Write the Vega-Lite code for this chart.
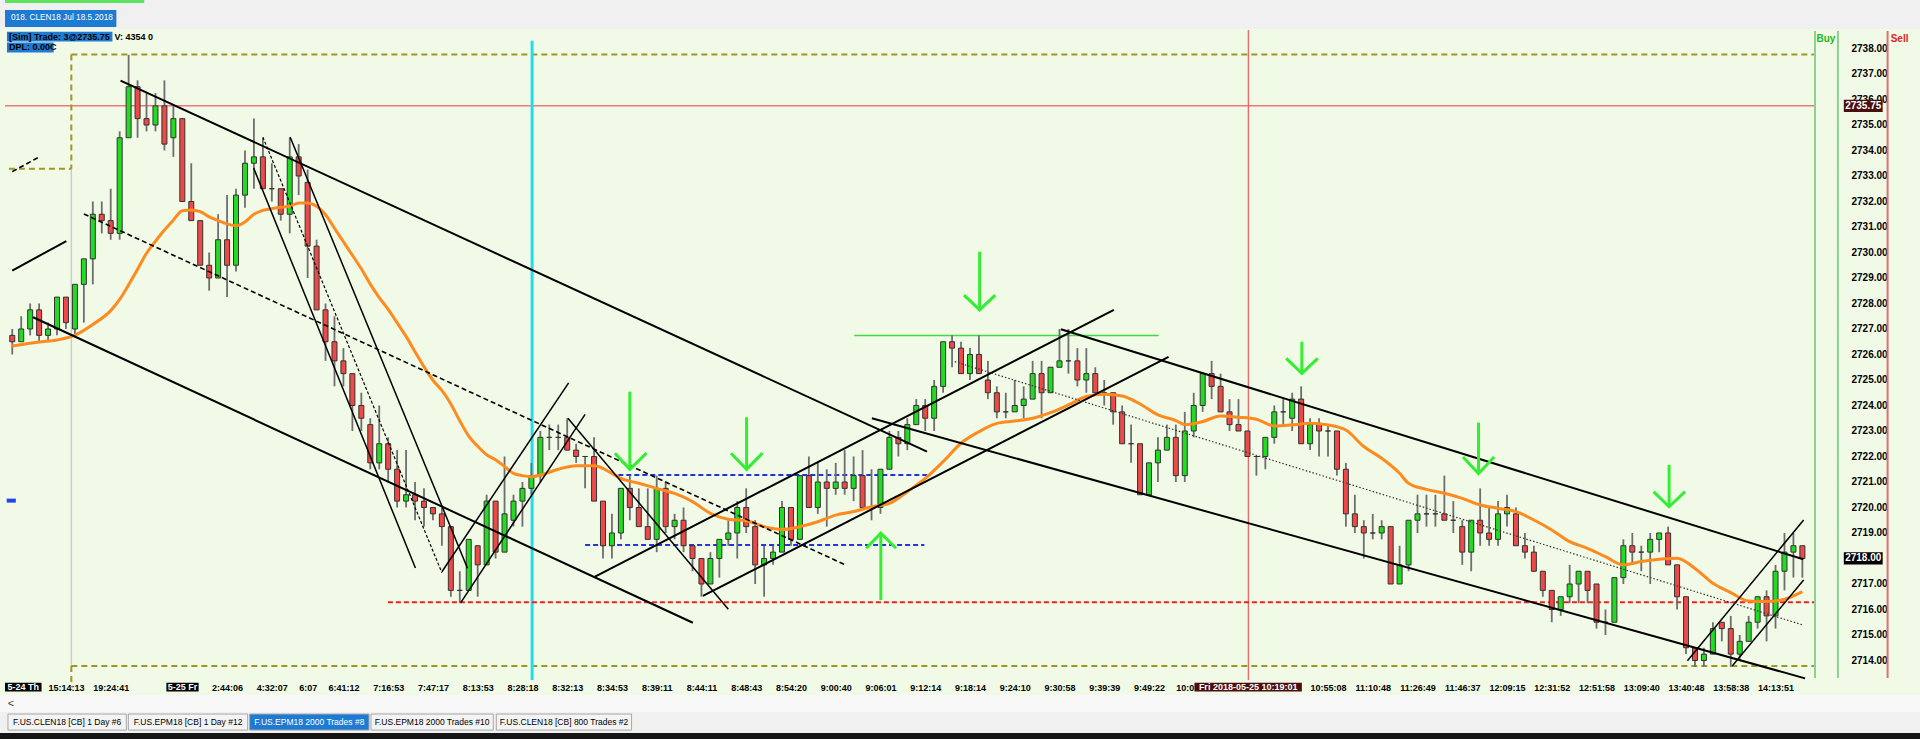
{
"$schema":"https://vega.github.io/schema/vega-lite/v6.json",
"width":1820,"height":650,"autosize":{"type":"none"},
"padding":{"left":0,"top":30,"right":100,"bottom":59},
"background":"#F0FAE6",
"config":{"view":{"stroke":null}},
"datasets":{
"candles":[
{"i":1,"o":2726.75,"h":2727.0,"l":2726.0,"c":2726.5},{"i":2,"o":2726.5,"h":2727.5,"l":2726.5,"c":2727.0},{"i":3,"o":2727.0,"h":2728.0,"l":2726.75,"c":2727.75},{"i":4,"o":2727.75,"h":2728.0,"l":2726.5,"c":2726.75},{"i":5,"o":2726.75,"h":2727.25,"l":2726.5,"c":2727.0},{"i":6,"o":2727.0,"h":2728.25,"l":2726.75,"c":2728.25},{"i":7,"o":2728.25,"h":2728.25,"l":2727.0,"c":2727.25},{"i":8,"o":2727.0,"h":2728.75,"l":2726.75,"c":2728.75},{"i":9,"o":2728.75,"h":2729.75,"l":2727.25,"c":2729.75},{"i":10,"o":2729.75,"h":2732.0,"l":2728.75,"c":2731.5},
{"i":11,"o":2731.5,"h":2732.0,"l":2730.75,"c":2731.25},{"i":12,"o":2731.25,"h":2732.5,"l":2730.5,"c":2730.75},{"i":13,"o":2730.75,"h":2734.75,"l":2730.5,"c":2734.5},{"i":14,"o":2734.5,"h":2737.75,"l":2734.5,"c":2736.5},{"i":15,"o":2736.5,"h":2736.75,"l":2734.5,"c":2735.25},{"i":16,"o":2735.25,"h":2736.25,"l":2734.75,"c":2735.0},{"i":17,"o":2735.0,"h":2736.25,"l":2734.75,"c":2735.75},{"i":18,"o":2735.75,"h":2736.75,"l":2734.0,"c":2734.25},{"i":19,"o":2734.5,"h":2735.75,"l":2733.75,"c":2735.25},{"i":20,"o":2735.25,"h":2735.25,"l":2732.0,"c":2732.0},
{"i":21,"o":2732.0,"h":2733.5,"l":2731.25,"c":2731.25},{"i":22,"o":2731.25,"h":2731.25,"l":2729.5,"c":2729.5},{"i":23,"o":2729.5,"h":2730.0,"l":2728.5,"c":2729.0},{"i":24,"o":2729.0,"h":2731.5,"l":2729.0,"c":2730.5},{"i":25,"o":2730.5,"h":2732.25,"l":2728.25,"c":2729.5},{"i":26,"o":2729.5,"h":2732.5,"l":2729.25,"c":2732.25},{"i":27,"o":2732.25,"h":2734.0,"l":2731.75,"c":2733.5},{"i":28,"o":2733.5,"h":2735.25,"l":2732.5,"c":2733.75},{"i":29,"o":2733.75,"h":2734.5,"l":2732.5,"c":2732.5},{"i":30,"o":2732.5,"h":2733.5,"l":2732.0,"c":2732.5},
{"i":31,"o":2732.5,"h":2732.5,"l":2731.25,"c":2731.5},{"i":32,"o":2731.5,"h":2734.5,"l":2730.75,"c":2733.75},{"i":33,"o":2733.75,"h":2734.25,"l":2732.25,"c":2733.0},{"i":34,"o":2732.75,"h":2733.25,"l":2729.0,"c":2730.25},{"i":35,"o":2730.25,"h":2730.5,"l":2727.75,"c":2727.75},{"i":36,"o":2727.75,"h":2728.0,"l":2725.75,"c":2726.5},{"i":37,"o":2726.5,"h":2727.5,"l":2724.75,"c":2725.75},{"i":38,"o":2725.75,"h":2726.25,"l":2724.75,"c":2725.25},{"i":39,"o":2725.25,"h":2725.25,"l":2723.0,"c":2724.0},{"i":40,"o":2724.0,"h":2724.5,"l":2723.0,"c":2723.5},
{"i":41,"o":2723.25,"h":2723.5,"l":2721.5,"c":2721.75},{"i":42,"o":2721.75,"h":2724.0,"l":2721.5,"c":2722.5},{"i":43,"o":2722.5,"h":2722.75,"l":2721.0,"c":2721.5},{"i":44,"o":2721.5,"h":2722.25,"l":2720.0,"c":2720.25},{"i":45,"o":2720.25,"h":2722.25,"l":2720.0,"c":2720.5},{"i":46,"o":2720.5,"h":2721.0,"l":2719.5,"c":2720.25},{"i":47,"o":2720.25,"h":2720.75,"l":2719.25,"c":2720.0},{"i":48,"o":2720.0,"h":2720.0,"l":2719.5,"c":2719.75},{"i":49,"o":2719.75,"h":2720.0,"l":2718.5,"c":2719.25},{"i":50,"o":2719.25,"h":2719.25,"l":2716.5,"c":2716.75},
{"i":51,"o":2716.75,"h":2717.5,"l":2716.25,"c":2716.75},{"i":52,"o":2716.75,"h":2718.75,"l":2716.75,"c":2718.75},{"i":53,"o":2718.5,"h":2718.5,"l":2716.5,"c":2717.75},{"i":54,"o":2717.75,"h":2720.5,"l":2717.75,"c":2720.25},{"i":55,"o":2720.25,"h":2720.25,"l":2718.0,"c":2718.25},{"i":56,"o":2718.25,"h":2722.0,"l":2718.25,"c":2719.75},{"i":57,"o":2719.5,"h":2720.5,"l":2719.25,"c":2720.25},{"i":58,"o":2720.25,"h":2721.0,"l":2719.25,"c":2720.75},{"i":59,"o":2720.75,"h":2721.75,"l":2720.5,"c":2721.25},{"i":60,"o":2721.25,"h":2723.0,"l":2721.0,"c":2722.75},
{"i":61,"o":2722.75,"h":2723.25,"l":2722.25,"c":2722.75},{"i":62,"o":2722.75,"h":2723.25,"l":2722.25,"c":2722.75},{"i":63,"o":2722.75,"h":2723.5,"l":2722.25,"c":2722.25},{"i":64,"o":2722.25,"h":2722.5,"l":2721.75,"c":2722.0},{"i":65,"o":2722.0,"h":2722.0,"l":2720.75,"c":2722.0},{"i":66,"o":2722.0,"h":2722.75,"l":2720.25,"c":2720.25},{"i":67,"o":2720.25,"h":2720.25,"l":2718.0,"c":2718.5},{"i":68,"o":2718.5,"h":2719.75,"l":2718.0,"c":2719.0},{"i":69,"o":2719.0,"h":2720.75,"l":2718.75,"c":2720.75},{"i":70,"o":2720.75,"h":2721.25,"l":2719.5,"c":2720.0},
{"i":71,"o":2720.0,"h":2720.75,"l":2719.25,"c":2719.25},{"i":72,"o":2719.25,"h":2720.75,"l":2718.75,"c":2718.75},{"i":73,"o":2718.75,"h":2721.25,"l":2718.25,"c":2720.75},{"i":74,"o":2720.75,"h":2721.0,"l":2719.0,"c":2719.25},{"i":75,"o":2719.25,"h":2719.75,"l":2718.75,"c":2719.5},{"i":76,"o":2719.5,"h":2720.0,"l":2718.25,"c":2718.5},{"i":77,"o":2718.5,"h":2718.5,"l":2717.5,"c":2718.0},{"i":78,"o":2718.0,"h":2718.0,"l":2716.5,"c":2717.0},{"i":79,"o":2717.0,"h":2718.25,"l":2717.0,"c":2718.0},{"i":80,"o":2718.0,"h":2718.75,"l":2717.25,"c":2718.75},
{"i":81,"o":2718.75,"h":2719.5,"l":2718.5,"c":2719.0},{"i":82,"o":2719.0,"h":2720.25,"l":2718.0,"c":2720.0},{"i":83,"o":2720.0,"h":2720.75,"l":2719.0,"c":2719.25},{"i":84,"o":2719.25,"h":2719.5,"l":2717.0,"c":2717.75},{"i":85,"o":2717.75,"h":2718.5,"l":2716.5,"c":2718.0},{"i":86,"o":2718.0,"h":2718.5,"l":2717.75,"c":2718.25},{"i":87,"o":2718.25,"h":2720.25,"l":2718.25,"c":2720.0},{"i":88,"o":2720.0,"h":2720.0,"l":2718.5,"c":2718.75},{"i":89,"o":2718.75,"h":2721.25,"l":2718.75,"c":2721.25},{"i":90,"o":2721.25,"h":2722.0,"l":2720.0,"c":2720.0},
{"i":91,"o":2720.0,"h":2721.75,"l":2719.75,"c":2721.0},{"i":92,"o":2721.0,"h":2721.5,"l":2719.25,"c":2720.75},{"i":93,"o":2720.75,"h":2721.75,"l":2720.5,"c":2721.0},{"i":94,"o":2721.0,"h":2722.25,"l":2720.5,"c":2720.75},{"i":95,"o":2720.75,"h":2722.0,"l":2720.25,"c":2721.25},{"i":96,"o":2721.25,"h":2722.25,"l":2720.0,"c":2720.0},{"i":97,"o":2720.0,"h":2721.5,"l":2719.5,"c":2720.0},{"i":98,"o":2720.0,"h":2721.5,"l":2719.75,"c":2721.5},{"i":99,"o":2721.5,"h":2723.0,"l":2721.5,"c":2722.75},{"i":100,"o":2722.75,"h":2723.0,"l":2722.0,"c":2722.5},
{"i":101,"o":2722.5,"h":2723.5,"l":2722.25,"c":2723.25},{"i":102,"o":2723.25,"h":2724.25,"l":2723.25,"c":2724.0},{"i":103,"o":2724.0,"h":2724.25,"l":2723.0,"c":2723.5},{"i":104,"o":2723.5,"h":2725.0,"l":2723.0,"c":2724.75},{"i":105,"o":2724.75,"h":2726.5,"l":2724.5,"c":2726.5},{"i":106,"o":2726.5,"h":2726.75,"l":2725.5,"c":2726.25},{"i":107,"o":2726.25,"h":2726.5,"l":2725.25,"c":2725.25},{"i":108,"o":2725.25,"h":2726.25,"l":2725.0,"c":2726.0},{"i":109,"o":2726.0,"h":2726.75,"l":2725.25,"c":2725.25},{"i":110,"o":2725.0,"h":2725.75,"l":2724.25,"c":2724.5},
{"i":111,"o":2724.5,"h":2724.75,"l":2723.5,"c":2723.75},{"i":112,"o":2723.75,"h":2724.5,"l":2723.5,"c":2723.75},{"i":113,"o":2723.75,"h":2725.0,"l":2723.75,"c":2724.0},{"i":114,"o":2724.0,"h":2724.75,"l":2723.5,"c":2724.25},{"i":115,"o":2724.25,"h":2725.75,"l":2724.25,"c":2725.25},{"i":116,"o":2725.25,"h":2725.75,"l":2723.5,"c":2724.5},{"i":117,"o":2724.5,"h":2725.5,"l":2724.5,"c":2725.5},{"i":118,"o":2725.5,"h":2727.0,"l":2725.5,"c":2725.75},{"i":119,"o":2725.75,"h":2727.0,"l":2725.25,"c":2725.75},{"i":120,"o":2725.75,"h":2726.25,"l":2724.75,"c":2725.0},
{"i":121,"o":2725.0,"h":2726.25,"l":2724.5,"c":2725.25},{"i":122,"o":2725.25,"h":2725.5,"l":2724.5,"c":2724.5},{"i":123,"o":2724.5,"h":2725.0,"l":2724.0,"c":2724.5},{"i":124,"o":2724.5,"h":2724.5,"l":2723.25,"c":2723.75},{"i":125,"o":2723.75,"h":2724.0,"l":2722.5,"c":2722.5},{"i":126,"o":2722.5,"h":2723.25,"l":2721.75,"c":2722.5},{"i":127,"o":2722.5,"h":2722.5,"l":2720.5,"c":2720.5},{"i":128,"o":2720.5,"h":2721.75,"l":2720.5,"c":2721.75},{"i":129,"o":2721.75,"h":2722.75,"l":2721.0,"c":2722.25},{"i":130,"o":2722.25,"h":2723.25,"l":2722.25,"c":2722.75},
{"i":131,"o":2722.75,"h":2723.25,"l":2721.0,"c":2721.25},{"i":132,"o":2721.25,"h":2723.75,"l":2721.0,"c":2723.0},{"i":133,"o":2723.0,"h":2724.5,"l":2722.75,"c":2724.0},{"i":134,"o":2724.0,"h":2725.25,"l":2723.75,"c":2725.25},{"i":135,"o":2725.25,"h":2725.75,"l":2724.25,"c":2724.75},{"i":136,"o":2724.75,"h":2725.25,"l":2723.75,"c":2723.75},{"i":137,"o":2723.75,"h":2724.25,"l":2723.0,"c":2723.25},{"i":138,"o":2723.25,"h":2724.25,"l":2723.0,"c":2723.0},{"i":139,"o":2723.0,"h":2723.0,"l":2722.0,"c":2722.0},{"i":140,"o":2722.0,"h":2722.0,"l":2721.25,"c":2722.0},
{"i":141,"o":2722.0,"h":2722.75,"l":2721.5,"c":2722.75},{"i":142,"o":2722.75,"h":2724.0,"l":2722.5,"c":2723.75},{"i":143,"o":2723.75,"h":2724.25,"l":2723.25,"c":2723.75},{"i":144,"o":2723.5,"h":2724.5,"l":2723.0,"c":2724.25},{"i":145,"o":2724.25,"h":2724.75,"l":2722.5,"c":2722.5},{"i":146,"o":2722.5,"h":2723.5,"l":2722.25,"c":2723.25},{"i":147,"o":2723.25,"h":2723.5,"l":2722.0,"c":2723.0},{"i":148,"o":2723.0,"h":2723.25,"l":2722.0,"c":2723.0},{"i":149,"o":2723.0,"h":2723.0,"l":2721.25,"c":2721.5},{"i":150,"o":2721.5,"h":2721.75,"l":2719.25,"c":2719.75},
{"i":151,"o":2719.75,"h":2720.5,"l":2719.0,"c":2719.25},{"i":152,"o":2719.25,"h":2719.5,"l":2718.0,"c":2719.0},{"i":153,"o":2719.0,"h":2719.75,"l":2718.75,"c":2719.0},{"i":154,"o":2719.0,"h":2719.5,"l":2718.75,"c":2719.25},{"i":155,"o":2719.25,"h":2719.25,"l":2717.0,"c":2717.0},{"i":156,"o":2717.0,"h":2718.5,"l":2717.0,"c":2717.75},{"i":157,"o":2717.75,"h":2719.5,"l":2717.5,"c":2719.5},{"i":158,"o":2719.5,"h":2720.5,"l":2719.0,"c":2719.75},{"i":159,"o":2719.75,"h":2720.5,"l":2719.25,"c":2719.75},{"i":160,"o":2719.75,"h":2720.5,"l":2719.25,"c":2719.75},
{"i":161,"o":2719.75,"h":2721.25,"l":2719.5,"c":2719.5},{"i":162,"o":2719.5,"h":2720.25,"l":2719.0,"c":2719.5},{"i":163,"o":2719.25,"h":2719.5,"l":2717.75,"c":2718.25},{"i":164,"o":2718.25,"h":2719.5,"l":2717.5,"c":2719.5},{"i":165,"o":2719.5,"h":2720.75,"l":2718.5,"c":2719.0},{"i":166,"o":2719.0,"h":2720.0,"l":2718.5,"c":2718.75},{"i":167,"o":2718.75,"h":2720.25,"l":2718.5,"c":2719.75},{"i":168,"o":2719.75,"h":2720.5,"l":2719.25,"c":2720.0},{"i":169,"o":2719.75,"h":2720.0,"l":2718.5,"c":2718.5},{"i":170,"o":2718.5,"h":2719.0,"l":2718.0,"c":2718.25},
{"i":171,"o":2718.25,"h":2718.5,"l":2717.5,"c":2717.5},{"i":172,"o":2717.5,"h":2717.5,"l":2716.5,"c":2716.75},{"i":173,"o":2716.75,"h":2716.75,"l":2715.5,"c":2716.0},{"i":174,"o":2716.0,"h":2716.5,"l":2715.75,"c":2716.5},{"i":175,"o":2716.5,"h":2717.75,"l":2716.25,"c":2717.0},{"i":176,"o":2717.0,"h":2717.5,"l":2716.25,"c":2717.5},{"i":177,"o":2717.5,"h":2717.5,"l":2716.25,"c":2716.75},{"i":178,"o":2717.0,"h":2717.0,"l":2715.25,"c":2715.5},{"i":179,"o":2715.5,"h":2716.0,"l":2715.0,"c":2715.5},{"i":180,"o":2715.5,"h":2717.25,"l":2715.5,"c":2717.25},
{"i":181,"o":2717.25,"h":2718.75,"l":2717.0,"c":2718.5},{"i":182,"o":2718.5,"h":2719.0,"l":2717.75,"c":2718.25},{"i":183,"o":2718.25,"h":2718.5,"l":2717.5,"c":2718.25},{"i":184,"o":2718.25,"h":2719.0,"l":2717.0,"c":2718.75},{"i":185,"o":2718.75,"h":2719.0,"l":2718.25,"c":2719.0},{"i":186,"o":2719.0,"h":2719.25,"l":2717.75,"c":2717.75},{"i":187,"o":2717.75,"h":2717.75,"l":2716.0,"c":2716.5},{"i":188,"o":2716.5,"h":2716.5,"l":2714.25,"c":2714.5},{"i":189,"o":2714.5,"h":2714.5,"l":2713.75,"c":2714.0},{"i":190,"o":2714.0,"h":2714.5,"l":2713.75,"c":2714.25},
{"i":191,"o":2714.25,"h":2715.5,"l":2714.25,"c":2715.25},{"i":192,"o":2715.5,"h":2715.5,"l":2714.75,"c":2715.25},{"i":193,"o":2715.25,"h":2715.75,"l":2713.75,"c":2714.25},{"i":194,"o":2714.25,"h":2715.0,"l":2714.0,"c":2714.75},{"i":195,"o":2714.75,"h":2715.75,"l":2714.75,"c":2715.5},{"i":196,"o":2715.5,"h":2716.5,"l":2715.25,"c":2716.5},{"i":197,"o":2716.5,"h":2716.75,"l":2714.75,"c":2715.75},{"i":198,"o":2715.75,"h":2717.75,"l":2715.25,"c":2717.5},{"i":199,"o":2717.5,"h":2719.0,"l":2716.75,"c":2718.25},{"i":200,"o":2718.25,"h":2719.0,"l":2717.25,"c":2718.5},
{"i":201,"o":2718.5,"h":2718.5,"l":2717.25,"c":2718.0}
],
"ma":[
{"i":1,"v":2726.33},{"i":4,"v":2726.49},{"i":6,"v":2726.57},{"i":8,"v":2726.76},{"i":10,"v":2727.18},{"i":12,"v":2727.72},{"i":13,"v":2728.16},{"i":14,"v":2728.73},{"i":15,"v":2729.34},{"i":16,"v":2729.97},{"i":17,"v":2730.44},{"i":18,"v":2730.88},{"i":19,"v":2731.27},{"i":20,"v":2731.64},{"i":21,"v":2731.67},{"i":22,"v":2731.6},{"i":23,"v":2731.4},{"i":24,"v":2731.25},{"i":25,"v":2731.12},{"i":26,"v":2731.05},{"i":27,"v":2731.2},{"i":28,"v":2731.5},{"i":29,"v":2731.65},{"i":30,"v":2731.72},{"i":31,"v":2731.77},{"i":32,"v":2731.81},{"i":33,"v":2731.94},{"i":34,"v":2731.94},{"i":35,"v":2731.81},{"i":36,"v":2731.48},{"i":37,"v":2730.95},{"i":38,"v":2730.42},{"i":39,"v":2729.89},{"i":40,"v":2729.36},{"i":41,"v":2728.76},{"i":42,"v":2728.23},{"i":43,"v":2727.77},{"i":44,"v":2727.24},{"i":45,"v":2726.71},{"i":46,"v":2726.11},{"i":47,"v":2725.52},{"i":48,"v":2724.99},{"i":49,"v":2724.59},{"i":50,"v":2724.06},{"i":51,"v":2723.4},{"i":52,"v":2722.8},{"i":53,"v":2722.4},{"i":54,"v":2722.07},{"i":55,"v":2721.87},{"i":56,"v":2721.61},{"i":57,"v":2721.34},{"i":58,"v":2721.25},{"i":59,"v":2721.21},{"i":60,"v":2721.27},{"i":62,"v":2721.5},{"i":64,"v":2721.64},{"i":66,"v":2721.64},{"i":68,"v":2721.34},{"i":69,"v":2721.14},{"i":71,"v":2720.95},{"i":73,"v":2720.75},{"i":75,"v":2720.55},{"i":77,"v":2720.23},{"i":79,"v":2719.77},{"i":81,"v":2719.54},{"i":83,"v":2719.48},{"i":85,"v":2719.25},{"i":87,"v":2719.14},{"i":89,"v":2719.25},{"i":91,"v":2719.44},{"i":93,"v":2719.7},{"i":95,"v":2719.84},{"i":97,"v":2720.03},{"i":99,"v":2720.16},{"i":101,"v":2720.62},{"i":103,"v":2721.14},{"i":105,"v":2721.8},{"i":107,"v":2722.52},{"i":109,"v":2722.97},{"i":111,"v":2723.3},{"i":113,"v":2723.39},{"i":115,"v":2723.5},{"i":117,"v":2723.72},{"i":119,"v":2724.02},{"i":121,"v":2724.35},{"i":123,"v":2724.44},{"i":125,"v":2724.37},{"i":127,"v":2724.06},{"i":129,"v":2723.63},{"i":131,"v":2723.41},{"i":132,"v":2723.25},{"i":134,"v":2723.37},{"i":136,"v":2723.59},{"i":138,"v":2723.54},{"i":140,"v":2723.46},{"i":142,"v":2723.2},{"i":144,"v":2723.24},{"i":146,"v":2723.3},{"i":148,"v":2723.24},{"i":150,"v":2723.04},{"i":152,"v":2722.39},{"i":154,"v":2721.93},{"i":156,"v":2721.34},{"i":157,"v":2720.95},{"i":159,"v":2720.71},{"i":161,"v":2720.56},{"i":163,"v":2720.36},{"i":165,"v":2720.1},{"i":167,"v":2719.97},{"i":169,"v":2719.84},{"i":171,"v":2719.51},{"i":173,"v":2719.12},{"i":175,"v":2718.66},{"i":177,"v":2718.4},{"i":179,"v":2718.07},{"i":181,"v":2717.75},{"i":183,"v":2717.88},{"i":185,"v":2717.97},{"i":187,"v":2718.01},{"i":189,"v":2717.61},{"i":191,"v":2717.03},{"i":193,"v":2716.66},{"i":195,"v":2716.33},{"i":197,"v":2716.31},{"i":199,"v":2716.4},{"i":201,"v":2716.7}
],
"segs":[
{"id":"L1","g":"t2","n":1,"k":13.1,"p":2736.74},{"id":"L1","g":"t2","n":2,"k":103.2,"p":2722.19},
{"id":"L2","g":"t2","n":1,"k":3.33,"p":2727.46},{"id":"L2","g":"t2","n":2,"k":77.04,"p":2715.48},
{"id":"L5","g":"t2","n":1,"k":1.0,"p":2729.29},{"id":"L5","g":"t2","n":2,"k":7.04,"p":2730.45},
{"id":"CU1","g":"t2","n":1,"k":66.11,"p":2717.29},{"id":"CU1","g":"t2","n":2,"k":124.08,"p":2727.75},
{"id":"CU2","g":"t2","n":1,"k":78.16,"p":2716.53},{"id":"CU2","g":"t2","n":2,"k":130.19,"p":2725.91},
{"id":"CD1","g":"t2","n":1,"k":118.16,"p":2726.99},{"id":"CD1","g":"t2","n":2,"k":201.1,"p":2717.97},
{"id":"CD2","g":"t2","n":1,"k":97.04,"p":2723.5},{"id":"CD2","g":"t2","n":2,"k":201.3,"p":2713.3},
{"id":"La","g":"t15","n":1,"k":27.97,"p":2733.31},{"id":"La","g":"t15","n":2,"k":46.04,"p":2717.63},
{"id":"Lb","g":"t15","n":1,"k":32.04,"p":2734.53},{"id":"Lb","g":"t15","n":2,"k":51.86,"p":2717.62},
{"id":"Lu1","g":"t15","n":1,"k":49.0,"p":2717.48},{"id":"Lu1","g":"t15","n":2,"k":63.16,"p":2724.89},
{"id":"Lu2","g":"t15","n":1,"k":51.11,"p":2716.27},{"id":"Lu2","g":"t15","n":2,"k":65.0,"p":2723.65},
{"id":"Ldn","g":"t15","n":1,"k":63.08,"p":2723.5},{"id":"Ldn","g":"t15","n":2,"k":81.0,"p":2716.01},
{"id":"E1","g":"t15","n":1,"k":188.16,"p":2713.99},{"id":"E1","g":"t15","n":2,"k":201.14,"p":2719.51},
{"id":"E2","g":"t15","n":1,"k":193.16,"p":2713.78},{"id":"E2","g":"t15","n":2,"k":201.14,"p":2717.16},
{"id":"L3","g":"dash","n":1,"k":9.0,"p":2731.51},{"id":"L3","g":"dash","n":2,"k":94.08,"p":2717.75},
{"id":"L4","g":"dash","n":1,"k":1.0,"p":2733.17},{"id":"L4","g":"dash","n":2,"k":4.08,"p":2733.76},
{"id":"Ld","g":"dash2","n":1,"k":29.0,"p":2734.52},{"id":"Ld","g":"dash2","n":2,"k":49.0,"p":2717.44},
{"id":"Lm","g":"dot","n":1,"k":106.3,"p":2725.72},{"id":"Lm","g":"dot","n":2,"k":201.08,"p":2715.39},
{"id":"B1","g":"blue","n":1,"k":68.71,"p":2721.27},{"id":"B1","g":"blue","n":2,"k":103.4,"p":2721.27},
{"id":"B2","g":"blue","n":1,"k":65.0,"p":2718.53},{"id":"B2","g":"blue","n":2,"k":102.9,"p":2718.53},
{"id":"R","g":"rdash","n":1,"k":42.97,"p":2716.28},{"id":"R","g":"rdash","n":2,"k":202.41,"p":2716.28},
{"id":"G","g":"gline","n":1,"k":95.08,"p":2726.74},{"id":"G","g":"gline","n":2,"k":129.08,"p":2726.74},
{"id":"RL","g":"rline","n":1,"k":0.19,"p":2735.75},{"id":"RL","g":"rline","n":2,"k":202.41,"p":2735.75},
{"id":"O1","g":"olive","n":1,"k":7.6,"p":2737.76},{"id":"O1","g":"olive","n":2,"k":202.41,"p":2737.76},
{"id":"O2","g":"olive","n":1,"k":7.6,"p":2737.76},{"id":"O2","g":"olive","n":2,"k":7.6,"p":2733.28},
{"id":"O3","g":"olive","n":1,"k":0.63,"p":2733.28},{"id":"O3","g":"olive","n":2,"k":7.6,"p":2733.28},
{"id":"O4","g":"olive","n":1,"k":7.6,"p":2713.78},{"id":"O4","g":"olive","n":2,"k":202.41,"p":2713.78},
{"id":"O5","g":"olive","n":1,"k":7.6,"p":2713.78},{"id":"O5","g":"olive","n":2,"k":7.6,"p":2712.95},
{"id":"GV","g":"gray","n":1,"k":7.6,"p":2733.28},{"id":"GV","g":"gray","n":2,"k":7.6,"p":2713.78},
{"id":"CY","g":"cyan","n":1,"k":59.08,"p":2738.3},{"id":"CY","g":"cyan","n":2,"k":59.08,"p":2713.235},
{"id":"CR","g":"cross","n":1,"k":139.1,"p":2738.725},{"id":"CR","g":"cross","n":2,"k":139.1,"p":2713.235},
{"id":"MK","g":"mark","n":1,"k":0.38,"p":2720.27},{"id":"MK","g":"mark","n":2,"k":1.4,"p":2720.27},
{"id":"CG1","g":"colg","n":1,"k":202.41,"p":2738.69},{"id":"CG1","g":"colg","n":2,"k":202.41,"p":2713.31},
{"id":"CG2","g":"colg","n":1,"k":204.97,"p":2738.69},{"id":"CG2","g":"colg","n":2,"k":204.97,"p":2713.31},
{"id":"CR2","g":"colr","n":1,"k":210.52,"p":2738.69},{"id":"CR2","g":"colr","n":2,"k":210.52,"p":2713.31},
{"id":"A1s","g":"arrow","n":1,"k":109.08,"p":2730.03},{"id":"A1s","g":"arrow","n":2,"k":109.08,"p":2727.75},
{"id":"A1h","g":"arrow","n":1,"k":107.34,"p":2728.33},{"id":"A1h","g":"arrow","n":2,"k":109.08,"p":2727.75},{"id":"A1h","g":"arrow","n":3,"k":110.82,"p":2728.33},
{"id":"A2s","g":"arrow","n":1,"k":70.0,"p":2724.54},{"id":"A2s","g":"arrow","n":2,"k":70.0,"p":2721.5},
{"id":"A2h","g":"arrow","n":1,"k":68.33,"p":2722.13},{"id":"A2h","g":"arrow","n":2,"k":70.0,"p":2721.5},{"id":"A2h","g":"arrow","n":3,"k":71.86,"p":2722.13},
{"id":"A3s","g":"arrow","n":1,"k":83.04,"p":2723.54},{"id":"A3s","g":"arrow","n":2,"k":83.04,"p":2721.5},
{"id":"A3h","g":"arrow","n":1,"k":81.3,"p":2722.13},{"id":"A3h","g":"arrow","n":2,"k":83.04,"p":2721.5},{"id":"A3h","g":"arrow","n":3,"k":84.82,"p":2722.13},
{"id":"A4s","g":"arrow","n":1,"k":98.04,"p":2716.37},{"id":"A4s","g":"arrow","n":2,"k":98.04,"p":2718.99},
{"id":"A4h","g":"arrow","n":1,"k":96.41,"p":2718.4},{"id":"A4h","g":"arrow","n":2,"k":98.04,"p":2718.99},{"id":"A4h","g":"arrow","n":3,"k":99.74,"p":2718.4},
{"id":"A5s","g":"arrow","n":1,"k":145.08,"p":2726.5},{"id":"A5s","g":"arrow","n":2,"k":145.08,"p":2725.26},
{"id":"A5h","g":"arrow","n":1,"k":143.33,"p":2725.85},{"id":"A5h","g":"arrow","n":2,"k":145.08,"p":2725.26},{"id":"A5h","g":"arrow","n":3,"k":146.86,"p":2725.85},
{"id":"A6s","g":"arrow","n":1,"k":164.82,"p":2723.33},{"id":"A6s","g":"arrow","n":2,"k":164.82,"p":2721.33},
{"id":"A6h","g":"arrow","n":1,"k":163.08,"p":2721.98},{"id":"A6h","g":"arrow","n":2,"k":164.82,"p":2721.33},{"id":"A6h","g":"arrow","n":3,"k":166.57,"p":2721.98},
{"id":"A7s","g":"arrow","n":1,"k":186.11,"p":2721.67},{"id":"A7s","g":"arrow","n":2,"k":186.11,"p":2720.03},
{"id":"A7h","g":"arrow","n":1,"k":184.38,"p":2720.62},{"id":"A7h","g":"arrow","n":2,"k":186.11,"p":2720.03},{"id":"A7h","g":"arrow","n":3,"k":187.89,"p":2720.62}
],
"bg":[
{"k1":-2,"k2":216,"p1":2740.3,"p2":2738.76,"g":"gray"},
{"k1":0.19,"k2":15.75,"p1":2739.9,"p2":2739.78,"g":"greenbar"},
{"k1":-2,"k2":216,"p1":2712.65,"p2":2711.98,"g":"white"},
{"k1":-2,"k2":216,"p1":2711.98,"p2":2711.16,"g":"gray"},
{"k1":-2,"k2":216,"p1":2711.16,"p2":2710.7,"g":"dark"}
],
"fg":[
{"k1":0.19,"k2":12.63,"p1":2739.51,"p2":2738.84,"g":"blue"},
{"k1":0.41,"k2":12.19,"p1":2738.66,"p2":2738.27,"g":"blue"},
{"k1":0.41,"k2":5.63,"p1":2738.23,"p2":2737.84,"g":"blue"},
{"k1":0.19,"k2":4.27,"p1":2713.13,"p2":2712.78,"g":"black"},
{"k1":18.22,"k2":21.82,"p1":2713.13,"p2":2712.78,"g":"black"},
{"k1":133.08,"k2":145.08,"p1":2713.13,"p2":2712.78,"g":"maroon"},
{"k1":205.63,"k2":209.97,"p1":2735.99,"p2":2735.51,"g":"maroon"},
{"k1":205.63,"k2":209.97,"p1":2718.24,"p2":2717.76,"g":"black"}
],
"tabs":[
{"k1":0.52,"k2":13.74,"p1":2711.9,"p2":2711.27,"g":"tab"},
{"k1":13.97,"k2":27.3,"p1":2711.9,"p2":2711.27,"g":"tab"},
{"k1":27.52,"k2":40.86,"p1":2711.9,"p2":2711.27,"g":"sel"},
{"k1":41.08,"k2":54.74,"p1":2711.9,"p2":2711.27,"g":"tab"},
{"k1":55.08,"k2":70.19,"p1":2711.9,"p2":2711.27,"g":"tab"}
],
"texts":[
{"k":0.86,"p":2739.18,"t":"018. CLEN18 Jul 18.5.2018","g":"tabt"},
{"k":0.63,"p":2738.46,"t":"[Sim]  Trade: 3@2735.75","g":"info"},
{"k":12.41,"p":2738.46,"t":"V: 4354 0","g":"info"},
{"k":0.63,"p":2738.04,"t":"DPL: 0.00C","g":"info"},
{"k":2.23,"p":2712.955,"t":"5-24 Th","g":"axb"},
{"k":20.02,"p":2712.955,"t":"5-25 Fr","g":"axb"},
{"k":139.08,"p":2712.955,"t":"Fri 2018-05-25  10:19:01","g":"axb"},
{"k":207.8,"p":2735.75,"t":"2735.75","g":"prb"},
{"k":207.8,"p":2718.0,"t":"2718.00","g":"prb"},
{"k":203.63,"p":2738.38,"t":"Buy","g":"buy"},
{"k":211.86,"p":2738.38,"t":"Sell","g":"sell"},
{"k":7.13,"p":2711.58,"t":"F.US.CLEN18 [CB]  1 Day  #6","g":"btab"},
{"k":20.64,"p":2711.58,"t":"F.US.EPM18 [CB]  1 Day  #12","g":"btab"},
{"k":34.19,"p":2711.58,"t":"F.US.EPM18  2000 Trades  #8","g":"bsel"},
{"k":47.91,"p":2711.58,"t":"F.US.EPM18  2000 Trades  #10","g":"btab"},
{"k":62.64,"p":2711.58,"t":"F.US.CLEN18 [CB]  800 Trades  #2","g":"btab"},
{"k":0.86,"p":2712.3,"t":"<","g":"scr"}
]
},
"layer":[
{"data":{"name":"bg"},"mark":{"type":"rect"},
 "encoding":{"x":{"field":"k1","type":"quantitative","scale":{"domain":[0.189,202.41],"nice":false,"zero":false}},"x2":{"field":"k2"},
 "y":{"field":"p1","type":"quantitative","scale":{"domain":[2713.235,2738.725],"nice":false,"zero":false}},"y2":{"field":"p2"},
 "color":{"condition":[{"test":"datum.g=='greenbar'","value":"#5DE35D"},{"test":"datum.g=='white'","value":"#F8F8F8"},{"test":"datum.g=='dark'","value":"#151515"}],"value":"#F0F0F0"}}},
{"data":{"name":"segs"},"transform":[{"filter":"datum.g=='gray'"}],"mark":{"type":"line","color":"#CCCCCC","strokeWidth":1.5},
 "encoding":{"x":{"field":"k","type":"quantitative","scale":{"domain":[0.189,202.41],"nice":false,"zero":false}},"y":{"field":"p","type":"quantitative","scale":{"domain":[2713.235,2738.725],"nice":false,"zero":false}},"detail":{"field":"id"},"order":{"field":"n"}}},
{"data":{"name":"segs"},"transform":[{"filter":"datum.g=='rline'"}],"mark":{"type":"line","color":"#F07878","strokeWidth":1.5},
 "encoding":{"x":{"field":"k","type":"quantitative","scale":{"domain":[0.189,202.41],"nice":false,"zero":false}},"y":{"field":"p","type":"quantitative","scale":{"domain":[2713.235,2738.725],"nice":false,"zero":false}},"detail":{"field":"id"},"order":{"field":"n"}}},
{"data":{"name":"segs"},"transform":[{"filter":"datum.g=='olive'"}],"mark":{"type":"line","color":"#9C9A1E","strokeWidth":2,"strokeDash":[6,4]},
 "encoding":{"x":{"field":"k","type":"quantitative","scale":{"domain":[0.189,202.41],"nice":false,"zero":false}},"y":{"field":"p","type":"quantitative","scale":{"domain":[2713.235,2738.725],"nice":false,"zero":false}},"detail":{"field":"id"},"order":{"field":"n"}}},
{"data":{"name":"segs"},"transform":[{"filter":"datum.g=='cyan'"}],"mark":{"type":"line","color":"#22DDEE","strokeWidth":3},
 "encoding":{"x":{"field":"k","type":"quantitative","scale":{"domain":[0.189,202.41],"nice":false,"zero":false}},"y":{"field":"p","type":"quantitative","scale":{"domain":[2713.235,2738.725],"nice":false,"zero":false}},"detail":{"field":"id"},"order":{"field":"n"}}},
{"data":{"name":"segs"},"transform":[{"filter":"datum.g=='cross'"}],"mark":{"type":"line","color":"#F25C5C","strokeWidth":1.2},
 "encoding":{"x":{"field":"k","type":"quantitative","scale":{"domain":[0.189,202.41],"nice":false,"zero":false}},"y":{"field":"p","type":"quantitative","scale":{"domain":[2713.235,2738.725],"nice":false,"zero":false}},"detail":{"field":"id"},"order":{"field":"n"}}},
{"data":{"name":"segs"},"transform":[{"filter":"datum.g=='blue'"}],"mark":{"type":"line","color":"#2233DD","strokeWidth":2,"strokeDash":[5,3]},
 "encoding":{"x":{"field":"k","type":"quantitative","scale":{"domain":[0.189,202.41],"nice":false,"zero":false}},"y":{"field":"p","type":"quantitative","scale":{"domain":[2713.235,2738.725],"nice":false,"zero":false}},"detail":{"field":"id"},"order":{"field":"n"}}},
{"data":{"name":"segs"},"transform":[{"filter":"datum.g=='rdash'"}],"mark":{"type":"line","color":"#EE2222","strokeWidth":2,"strokeDash":[5,3]},
 "encoding":{"x":{"field":"k","type":"quantitative","scale":{"domain":[0.189,202.41],"nice":false,"zero":false}},"y":{"field":"p","type":"quantitative","scale":{"domain":[2713.235,2738.725],"nice":false,"zero":false}},"detail":{"field":"id"},"order":{"field":"n"}}},
{"data":{"name":"segs"},"transform":[{"filter":"datum.g=='gline'"}],"mark":{"type":"line","color":"#44D844","strokeWidth":1.5},
 "encoding":{"x":{"field":"k","type":"quantitative","scale":{"domain":[0.189,202.41],"nice":false,"zero":false}},"y":{"field":"p","type":"quantitative","scale":{"domain":[2713.235,2738.725],"nice":false,"zero":false}},"detail":{"field":"id"},"order":{"field":"n"}}},
{"data":{"name":"candles"},"mark":{"type":"rule","color":"#6E6E6E","strokeWidth":1.8},
 "encoding":{"x":{"field":"i","type":"quantitative","scale":{"domain":[0.189,202.41],"nice":false,"zero":false},
   "axis":{"orient":"bottom","values":[7,12,25,30,34,38,43,48,53,58,63,68,73,78,83,88,93,98,103,108,113,118,123,128,132,148,153,158,163,168,173,178,183,188,193,198],
   "labelExpr":"['15:14:13','19:24:41','2:44:06','4:32:07','6:07','6:41:12','7:16:53','7:47:17','8:13:53','8:28:18','8:32:13','8:34:53','8:39:11','8:44:11','8:48:43','8:54:20','9:00:40','9:06:01','9:12:14','9:18:14','9:24:10','9:30:58','9:39:39','9:49:22','10:0','10:55:08','11:10:48','11:26:49','11:46:37','12:09:15','12:31:52','12:51:58','13:09:40','13:40:48','13:58:38','14:13:51'][indexof([7,12,25,30,34,38,43,48,53,58,63,68,73,78,83,88,93,98,103,108,113,118,123,128,132,148,153,158,163,168,173,178,183,188,193,198], datum.value)]",
   "title":null,"grid":false,"domain":false,"ticks":false,"labelPadding":3,"labelFont":"Liberation Sans","labelFontSize":9,"labelFontWeight":"bold","labelColor":"#000000","labelOverlap":false,"labelFlush":false,"zindex":0}},
  "y":{"field":"l","type":"quantitative","scale":{"domain":[2713.235,2738.725],"nice":false,"zero":false},
   "axis":{"orient":"right","values":[2714,2715,2716,2717,2719,2720,2721,2722,2723,2724,2725,2726,2727,2728,2729,2730,2731,2732,2733,2734,2735,2736,2737,2738],"tickCount":26,"format":".2f","title":null,"grid":false,"domain":false,"ticks":false,"labelPadding":31,"labelFont":"Liberation Sans","labelFontSize":10,"labelFontWeight":"bold","labelColor":"#000000","labelOverlap":false,"labelSeparation":0,"labelFlush":false,"labelBaseline":"middle","zindex":0}},
  "y2":{"field":"h"}}},
{"data":{"name":"candles"},"mark":{"type":"bar","width":5,"stroke":"#333333","strokeWidth":1},
 "encoding":{"x":{"field":"i","type":"quantitative","scale":{"domain":[0.189,202.41],"nice":false,"zero":false}},
  "y":{"field":"o","type":"quantitative","scale":{"domain":[2713.235,2738.725],"nice":false,"zero":false}},"y2":{"field":"c"},
  "color":{"condition":{"test":"datum.c >= datum.o","value":"#22DC22"},"value":"#EE4848"}}},
{"data":{"name":"ma"},"mark":{"type":"line","color":"#FF8A1E","strokeWidth":3,"interpolate":"monotone"},
 "encoding":{"x":{"field":"i","type":"quantitative","scale":{"domain":[0.189,202.41],"nice":false,"zero":false}},"y":{"field":"v","type":"quantitative","scale":{"domain":[2713.235,2738.725],"nice":false,"zero":false}}}},
{"data":{"name":"segs"},"transform":[{"filter":"datum.g=='t2'"}],"mark":{"type":"line","color":"#000000","strokeWidth":2},
 "encoding":{"x":{"field":"k","type":"quantitative","scale":{"domain":[0.189,202.41],"nice":false,"zero":false}},"y":{"field":"p","type":"quantitative","scale":{"domain":[2713.235,2738.725],"nice":false,"zero":false}},"detail":{"field":"id"},"order":{"field":"n"}}},
{"data":{"name":"segs"},"transform":[{"filter":"datum.g=='t15'"}],"mark":{"type":"line","color":"#000000","strokeWidth":1.5},
 "encoding":{"x":{"field":"k","type":"quantitative","scale":{"domain":[0.189,202.41],"nice":false,"zero":false}},"y":{"field":"p","type":"quantitative","scale":{"domain":[2713.235,2738.725],"nice":false,"zero":false}},"detail":{"field":"id"},"order":{"field":"n"}}},
{"data":{"name":"segs"},"transform":[{"filter":"datum.g=='dash'"}],"mark":{"type":"line","color":"#000000","strokeWidth":1.6,"strokeDash":[5,3]},
 "encoding":{"x":{"field":"k","type":"quantitative","scale":{"domain":[0.189,202.41],"nice":false,"zero":false}},"y":{"field":"p","type":"quantitative","scale":{"domain":[2713.235,2738.725],"nice":false,"zero":false}},"detail":{"field":"id"},"order":{"field":"n"}}},
{"data":{"name":"segs"},"transform":[{"filter":"datum.g=='dash2'"}],"mark":{"type":"line","color":"#000000","strokeWidth":1.2,"strokeDash":[3,2]},
 "encoding":{"x":{"field":"k","type":"quantitative","scale":{"domain":[0.189,202.41],"nice":false,"zero":false}},"y":{"field":"p","type":"quantitative","scale":{"domain":[2713.235,2738.725],"nice":false,"zero":false}},"detail":{"field":"id"},"order":{"field":"n"}}},
{"data":{"name":"segs"},"transform":[{"filter":"datum.g=='dot'"}],"mark":{"type":"line","color":"#333333","strokeWidth":1.2,"strokeDash":[1.5,2]},
 "encoding":{"x":{"field":"k","type":"quantitative","scale":{"domain":[0.189,202.41],"nice":false,"zero":false}},"y":{"field":"p","type":"quantitative","scale":{"domain":[2713.235,2738.725],"nice":false,"zero":false}},"detail":{"field":"id"},"order":{"field":"n"}}},
{"data":{"name":"segs"},"transform":[{"filter":"datum.g=='arrow'"}],"mark":{"type":"line","color":"#33EE33","strokeWidth":3},
 "encoding":{"x":{"field":"k","type":"quantitative","scale":{"domain":[0.189,202.41],"nice":false,"zero":false}},"y":{"field":"p","type":"quantitative","scale":{"domain":[2713.235,2738.725],"nice":false,"zero":false}},"detail":{"field":"id"},"order":{"field":"n"}}},
{"data":{"name":"segs"},"transform":[{"filter":"datum.g=='mark'"}],"mark":{"type":"line","color":"#2244EE","strokeWidth":4},
 "encoding":{"x":{"field":"k","type":"quantitative","scale":{"domain":[0.189,202.41],"nice":false,"zero":false}},"y":{"field":"p","type":"quantitative","scale":{"domain":[2713.235,2738.725],"nice":false,"zero":false}},"detail":{"field":"id"},"order":{"field":"n"}}},
{"data":{"name":"segs"},"transform":[{"filter":"datum.g=='colg'"}],"mark":{"type":"line","color":"#8ED08E","strokeWidth":2},
 "encoding":{"x":{"field":"k","type":"quantitative","scale":{"domain":[0.189,202.41],"nice":false,"zero":false}},"y":{"field":"p","type":"quantitative","scale":{"domain":[2713.235,2738.725],"nice":false,"zero":false}},"detail":{"field":"id"},"order":{"field":"n"}}},
{"data":{"name":"segs"},"transform":[{"filter":"datum.g=='colr'"}],"mark":{"type":"line","color":"#E07070","strokeWidth":2},
 "encoding":{"x":{"field":"k","type":"quantitative","scale":{"domain":[0.189,202.41],"nice":false,"zero":false}},"y":{"field":"p","type":"quantitative","scale":{"domain":[2713.235,2738.725],"nice":false,"zero":false}},"detail":{"field":"id"},"order":{"field":"n"}}},
{"data":{"name":"fg"},"mark":{"type":"rect"},
 "encoding":{"x":{"field":"k1","type":"quantitative","scale":{"domain":[0.189,202.41],"nice":false,"zero":false}},"x2":{"field":"k2"},
 "y":{"field":"p1","type":"quantitative","scale":{"domain":[2713.235,2738.725],"nice":false,"zero":false}},"y2":{"field":"p2"},
 "color":{"condition":[{"test":"datum.g=='blue'","value":"#1E7BD2"},{"test":"datum.g=='maroon'","value":"#4A0E0E"}],"value":"#000000"}}},
{"data":{"name":"tabs"},"mark":{"type":"rect","stroke":"#A8A8A8","strokeWidth":1},
 "encoding":{"x":{"field":"k1","type":"quantitative","scale":{"domain":[0.189,202.41],"nice":false,"zero":false}},"x2":{"field":"k2"},
 "y":{"field":"p1","type":"quantitative","scale":{"domain":[2713.235,2738.725],"nice":false,"zero":false}},"y2":{"field":"p2"},
 "color":{"condition":{"test":"datum.g=='sel'","value":"#1E7BD2"},"value":"#F4F4F4"}}},
{"data":{"name":"texts"},"transform":[{"filter":"datum.g=='tabt'"}],"mark":{"type":"text","font":"Liberation Sans","fontSize":8.3,"color":"#FFFFFF","align":"left","baseline":"middle"},
 "encoding":{"x":{"field":"k","type":"quantitative","scale":{"domain":[0.189,202.41],"nice":false,"zero":false}},"y":{"field":"p","type":"quantitative","scale":{"domain":[2713.235,2738.725],"nice":false,"zero":false}},"text":{"field":"t"}}},
{"data":{"name":"texts"},"transform":[{"filter":"datum.g=='info'"}],"mark":{"type":"text","font":"Liberation Sans","fontSize":9,"fontWeight":"bold","color":"#000000","align":"left","baseline":"middle"},
 "encoding":{"x":{"field":"k","type":"quantitative","scale":{"domain":[0.189,202.41],"nice":false,"zero":false}},"y":{"field":"p","type":"quantitative","scale":{"domain":[2713.235,2738.725],"nice":false,"zero":false}},"text":{"field":"t"}}},
{"data":{"name":"texts"},"transform":[{"filter":"datum.g=='axb'"}],"mark":{"type":"text","font":"Liberation Sans","fontSize":9,"fontWeight":"bold","color":"#FFFFFF","align":"center","baseline":"middle"},
 "encoding":{"x":{"field":"k","type":"quantitative","scale":{"domain":[0.189,202.41],"nice":false,"zero":false}},"y":{"field":"p","type":"quantitative","scale":{"domain":[2713.235,2738.725],"nice":false,"zero":false}},"text":{"field":"t"}}},
{"data":{"name":"texts"},"transform":[{"filter":"datum.g=='prb'"}],"mark":{"type":"text","font":"Liberation Sans","fontSize":10,"fontWeight":"bold","color":"#FFFFFF","align":"center","baseline":"middle"},
 "encoding":{"x":{"field":"k","type":"quantitative","scale":{"domain":[0.189,202.41],"nice":false,"zero":false}},"y":{"field":"p","type":"quantitative","scale":{"domain":[2713.235,2738.725],"nice":false,"zero":false}},"text":{"field":"t"}}},
{"data":{"name":"texts"},"transform":[{"filter":"datum.g=='buy'"}],"mark":{"type":"text","font":"Liberation Sans","fontSize":10,"fontWeight":"bold","color":"#22B822","align":"center","baseline":"middle"},
 "encoding":{"x":{"field":"k","type":"quantitative","scale":{"domain":[0.189,202.41],"nice":false,"zero":false}},"y":{"field":"p","type":"quantitative","scale":{"domain":[2713.235,2738.725],"nice":false,"zero":false}},"text":{"field":"t"}}},
{"data":{"name":"texts"},"transform":[{"filter":"datum.g=='sell'"}],"mark":{"type":"text","font":"Liberation Sans","fontSize":10,"fontWeight":"bold","color":"#E02222","align":"center","baseline":"middle"},
 "encoding":{"x":{"field":"k","type":"quantitative","scale":{"domain":[0.189,202.41],"nice":false,"zero":false}},"y":{"field":"p","type":"quantitative","scale":{"domain":[2713.235,2738.725],"nice":false,"zero":false}},"text":{"field":"t"}}},
{"data":{"name":"texts"},"transform":[{"filter":"datum.g=='btab'"}],"mark":{"type":"text","font":"Liberation Sans","fontSize":8.5,"color":"#000000","align":"center","baseline":"middle"},
 "encoding":{"x":{"field":"k","type":"quantitative","scale":{"domain":[0.189,202.41],"nice":false,"zero":false}},"y":{"field":"p","type":"quantitative","scale":{"domain":[2713.235,2738.725],"nice":false,"zero":false}},"text":{"field":"t"}}},
{"data":{"name":"texts"},"transform":[{"filter":"datum.g=='bsel'"}],"mark":{"type":"text","font":"Liberation Sans","fontSize":8.5,"color":"#FFFFFF","align":"center","baseline":"middle"},
 "encoding":{"x":{"field":"k","type":"quantitative","scale":{"domain":[0.189,202.41],"nice":false,"zero":false}},"y":{"field":"p","type":"quantitative","scale":{"domain":[2713.235,2738.725],"nice":false,"zero":false}},"text":{"field":"t"}}},
{"data":{"name":"texts"},"transform":[{"filter":"datum.g=='scr'"}],"mark":{"type":"text","font":"Liberation Sans","fontSize":11,"color":"#444444","align":"center","baseline":"middle"},
 "encoding":{"x":{"field":"k","type":"quantitative","scale":{"domain":[0.189,202.41],"nice":false,"zero":false}},"y":{"field":"p","type":"quantitative","scale":{"domain":[2713.235,2738.725],"nice":false,"zero":false}},"text":{"field":"t"}}}
]
}
